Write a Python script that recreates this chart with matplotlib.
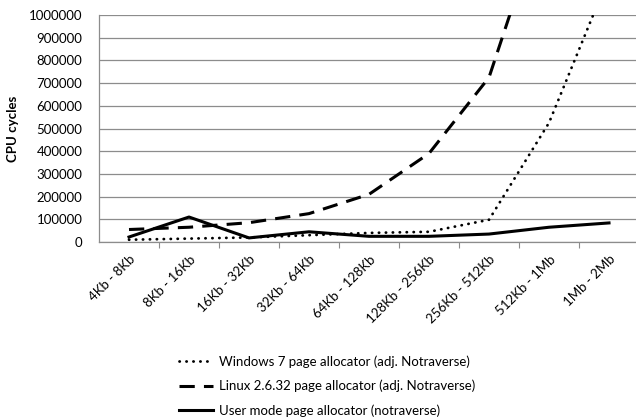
import numpy as np
import matplotlib
matplotlib.use("Agg")
import matplotlib.pyplot as plt

plt.rcParams['font.family'] = ['Lato', 'DejaVu Sans']

categories = ["4Kb - 8Kb", "8Kb - 16Kb", "16Kb - 32Kb", "32Kb - 64Kb", "64Kb - 128Kb",
              "128Kb - 256Kb", "256Kb - 512Kb", "512Kb - 1Mb", "1Mb - 2Mb"]

windows7 = [10000, 15000, 20000, 30000, 40000, 45000, 98000, 525000, 1170000]
linux = [55000, 65000, 85000, 125000, 210000, 390000, 725000, 1520000, np.nan]
usermode = [22000, 110000, 18000, 45000, 25000, 25000, 35000, 65000, 84000]

labels = ["Windows 7 page allocator (adj. Notraverse)",
          "Linux 2.6.32 page allocator (adj. Notraverse)",
          "User mode page allocator (notraverse)"]

yticks = np.arange(0, 1000001, 100000)
fs = 9.5

fig = plt.figure(figsize=(6.36, 4.2), dpi=100)
ax = fig.add_axes([99 / 636, 1 - 242 / 420, 537 / 636, 227 / 420])

x = np.arange(len(categories))
l1, = ax.plot(x, windows7, color="black", lw=2.0, linestyle=(0, (0.1, 2.4)),
              dash_capstyle="round")
l2, = ax.plot(x, linux, color="black", lw=2.2, linestyle=(0, (5, 3)))
l3, = ax.plot(x, usermode, color="black", lw=2.2)

ax.set_xlim(-0.5, 8.45)
ax.set_ylim(0, 1000000)
ax.set_yticks(yticks)
ax.set_yticklabels([str(v) for v in yticks], fontsize=fs)
ax.yaxis.grid(True, color="#8c8c8c", lw=0.9)
ax.set_axisbelow(True)
ax.tick_params(axis="y", length=0, pad=12)

# ticks between categories, labels at the centres
ax.set_xticks(np.arange(0.5, 8.5, 1))
ax.set_xticklabels([])
ax.set_xticks(x, minor=True)
ax.set_xticklabels(categories, minor=True, rotation=45, ha="right",
                   rotation_mode="anchor", fontsize=fs)
ax.tick_params(axis="x", which="major", length=4, color="#8c8c8c", direction="out")
ax.tick_params(axis="x", which="minor", length=0, pad=8)

for s in ["top", "right"]:
    ax.spines[s].set_visible(False)
for s in ["left", "bottom"]:
    ax.spines[s].set_color("#8c8c8c")
    ax.spines[s].set_linewidth(0.9)

ax.set_ylabel("CPU cycles", fontsize=fs, fontweight="bold", labelpad=7)

fig.legend([l1, l2, l3], labels, loc="center", bbox_to_anchor=(327 / 636, 1 - 386 / 420),
           frameon=False, fontsize=fs, handlelength=2.6, handletextpad=0.45,
           labelspacing=0.9, borderaxespad=0, borderpad=0)

fig.savefig("out.png", dpi=100)
